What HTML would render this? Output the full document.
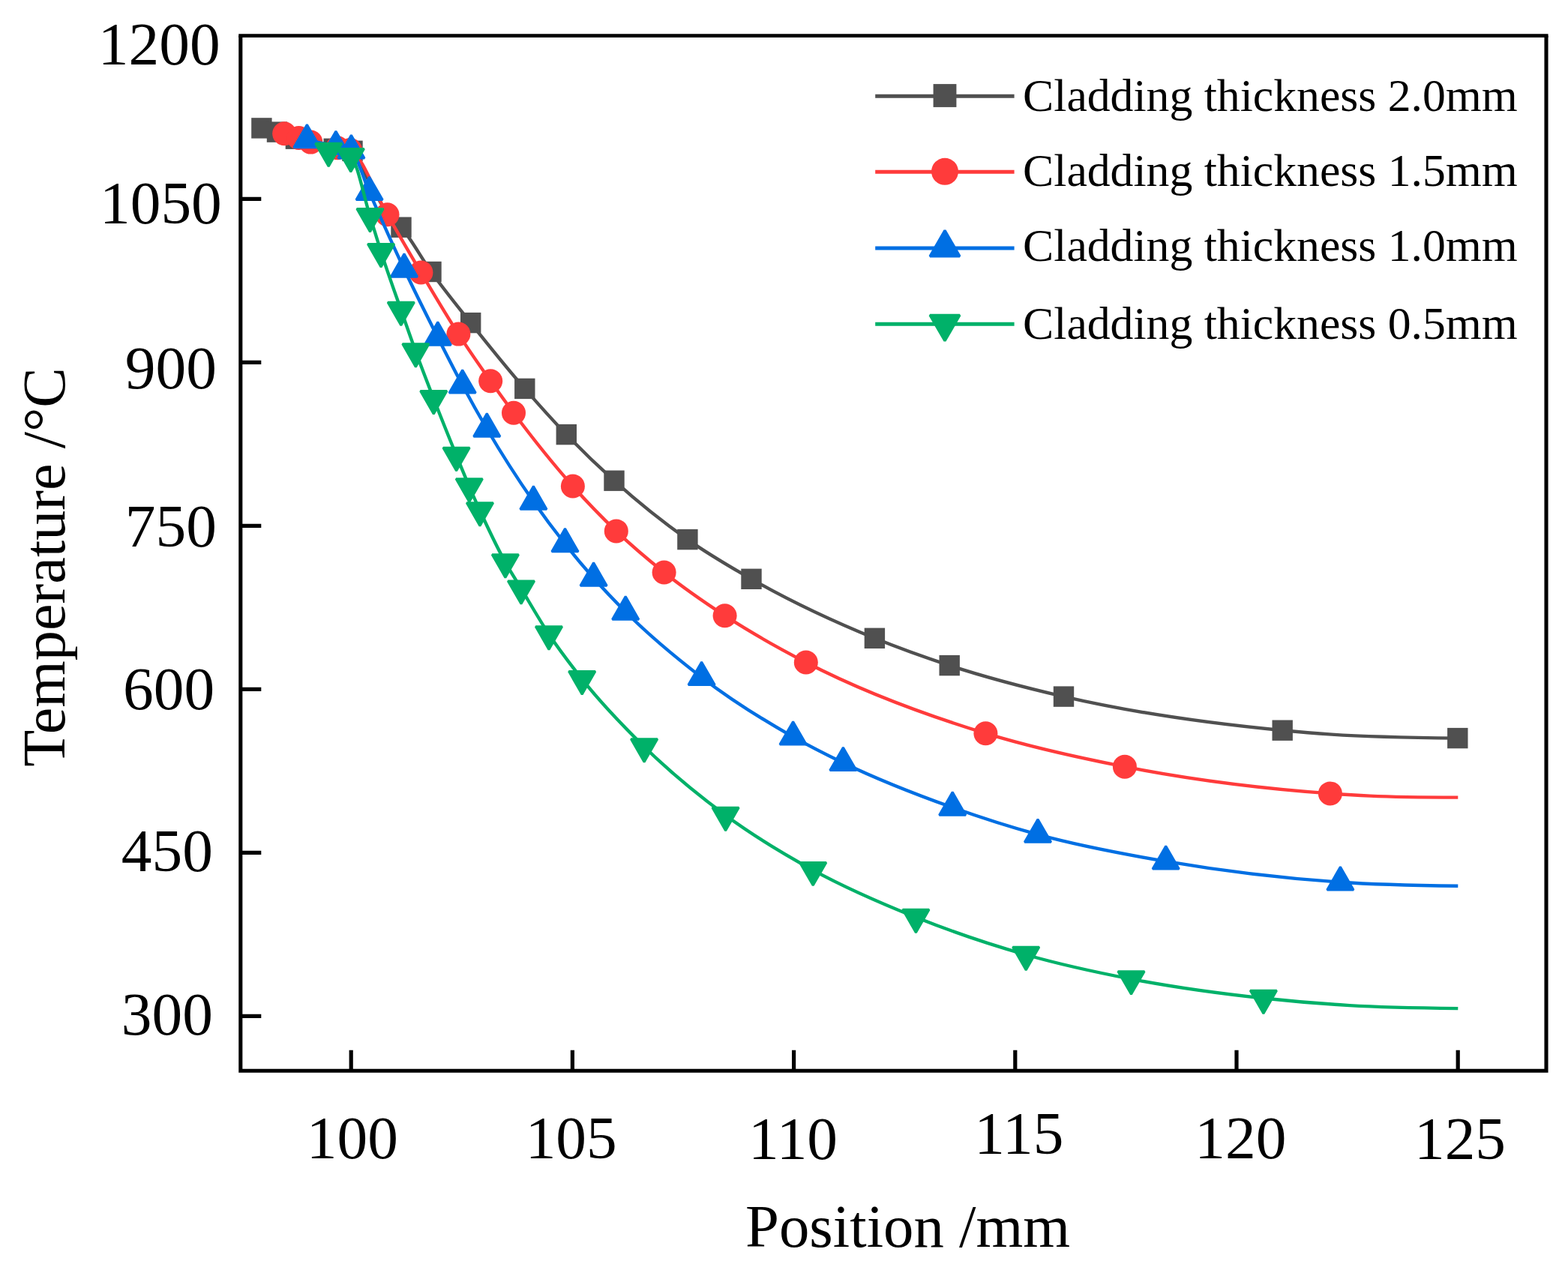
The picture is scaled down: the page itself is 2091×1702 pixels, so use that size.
<!DOCTYPE html>
<html lang="en"><head><meta charset="utf-8"><title>Temperature vs position for different cladding thickness</title>
<style>html,body{margin:0;padding:0;background:#fff}body{width:2091px;height:1702px;overflow:hidden}svg{display:block;filter:blur(0.75px)}text{font-family:"Liberation Serif",serif;fill:#000}</style>
</head><body>
<svg width="2091" height="1702" viewBox="0 0 2091 1702">
<rect width="2091" height="1702" fill="#fff"/>
<g>
<path d="M348.9 170.9C355.77 172.46 362.63 174.02 369.5 176.1C377.8 178.62 386.1 182.46 394.4 185.2C411.33 190.79 428.27 195.49 445.2 198.3C453.47 199.67 461.73 198.3 470 201.3C473.67 202.63 477.33 214.34 481 221C487 231.91 493 243.69 499 254.5C504.83 265.01 510.67 276.99 516.5 285C522.67 293.47 528.83 296.16 535 303.2C548.33 318.42 561.67 343.83 575 362.5C592.57 387.1 610.13 408.45 627.7 430.6C651.73 460.9 675.77 490.7 699.8 518.4C718.3 539.73 736.8 560.37 755.3 579.6C776.53 601.67 797.77 622.06 819 641.2C851.63 670.62 884.27 696.64 916.9 719.6C945.27 739.56 973.63 756.08 1002 772.3C1056.8 803.64 1111.6 828.95 1166.4 851.3C1199.67 864.87 1232.93 876.7 1266.2 887.6C1316.97 904.23 1367.73 917.32 1418.5 929.1C1515.73 951.66 1612.97 964.92 1710.2 974.2C1732.13 976.29 1754.07 978.12 1776 979.6C1831.93 983.37 1887.87 983.98 1943.8 984.6" fill="none" stroke="#505050" stroke-width="4.4" stroke-linejoin="round"/>
<rect x="335.2" y="157.2" width="27.4" height="27.4" fill="#505050"/>
<rect x="355.8" y="162.4" width="27.4" height="27.4" fill="#505050"/>
<rect x="380.7" y="171.5" width="27.4" height="27.4" fill="#505050"/>
<rect x="431.5" y="184.6" width="27.4" height="27.4" fill="#505050"/>
<rect x="456.3" y="187.6" width="27.4" height="27.4" fill="#505050"/>
<rect x="521.3" y="289.5" width="27.4" height="27.4" fill="#505050"/>
<rect x="561.3" y="348.8" width="27.4" height="27.4" fill="#505050"/>
<rect x="614" y="416.9" width="27.4" height="27.4" fill="#505050"/>
<rect x="686.1" y="504.7" width="27.4" height="27.4" fill="#505050"/>
<rect x="741.6" y="565.9" width="27.4" height="27.4" fill="#505050"/>
<rect x="805.3" y="627.5" width="27.4" height="27.4" fill="#505050"/>
<rect x="903.2" y="705.9" width="27.4" height="27.4" fill="#505050"/>
<rect x="988.3" y="758.6" width="27.4" height="27.4" fill="#505050"/>
<rect x="1152.7" y="837.6" width="27.4" height="27.4" fill="#505050"/>
<rect x="1252.5" y="873.9" width="27.4" height="27.4" fill="#505050"/>
<rect x="1404.8" y="915.4" width="27.4" height="27.4" fill="#505050"/>
<rect x="1696.5" y="960.5" width="27.4" height="27.4" fill="#505050"/>
<rect x="1930.1" y="970.9" width="27.4" height="27.4" fill="#505050"/>
</g>
<g>
<path d="M379.2 178.2C385.63 180.04 392.07 181.88 398.5 184C403.77 185.74 409.03 187.96 414.3 189.6C426.2 193.31 438.1 195.19 450 197.3C455.67 198.3 461.33 197.3 467 200C483.5 207.86 500 257.66 516.5 286.2C531.47 312.09 546.43 338.2 561.4 363.4C578.07 391.46 594.73 419.81 611.4 445.6C625.67 467.68 639.93 488.11 654.2 508.3C664.47 522.83 674.73 537.04 685 550.8C711.3 586.05 737.6 619.02 763.9 648.5C783.2 670.13 802.5 690 821.8 708.4C843.07 728.67 864.33 746.55 885.6 763.5C912.6 785.02 939.6 803.55 966.6 821.2C1002.67 844.78 1038.73 864.76 1074.8 883.5C1154.67 925 1234.53 953.63 1314.4 978.2C1376.23 997.22 1438.07 1010.6 1499.9 1022.7C1591.23 1040.57 1682.57 1051.86 1773.9 1058.4C1791.6 1059.67 1809.3 1060.77 1827 1061.6C1866.1 1063.43 1905.2 1063.51 1944.3 1063.6" fill="none" stroke="#ff3b3b" stroke-width="4.4" stroke-linejoin="round"/>
<circle cx="379.2" cy="178.2" r="16" fill="#ff3b3b"/>
<circle cx="398.5" cy="184" r="16" fill="#ff3b3b"/>
<circle cx="414.3" cy="189.6" r="16" fill="#ff3b3b"/>
<circle cx="450" cy="197.3" r="16" fill="#ff3b3b"/>
<circle cx="467" cy="200" r="16" fill="#ff3b3b"/>
<circle cx="516.5" cy="286.2" r="16" fill="#ff3b3b"/>
<circle cx="561.4" cy="363.4" r="16" fill="#ff3b3b"/>
<circle cx="611.4" cy="445.6" r="16" fill="#ff3b3b"/>
<circle cx="654.2" cy="508.3" r="16" fill="#ff3b3b"/>
<circle cx="685" cy="550.8" r="16" fill="#ff3b3b"/>
<circle cx="763.9" cy="648.5" r="16" fill="#ff3b3b"/>
<circle cx="821.8" cy="708.4" r="16" fill="#ff3b3b"/>
<circle cx="885.6" cy="763.5" r="16" fill="#ff3b3b"/>
<circle cx="966.6" cy="821.2" r="16" fill="#ff3b3b"/>
<circle cx="1074.8" cy="883.5" r="16" fill="#ff3b3b"/>
<circle cx="1314.4" cy="978.2" r="16" fill="#ff3b3b"/>
<circle cx="1499.9" cy="1022.7" r="16" fill="#ff3b3b"/>
<circle cx="1773.9" cy="1058.4" r="16" fill="#ff3b3b"/>
</g>
<g>
<path d="M409.4 186.6C422.23 189.41 435.07 192.22 447.9 195.4C454.73 197.1 461.57 195.4 468.4 200.7C476.47 206.96 484.53 238 492.6 256.3C508.07 291.39 523.53 326.2 539 359C553.93 390.67 568.87 420.46 583.8 450C594.77 471.69 605.73 493.38 616.7 513.8C627.57 534.03 638.43 553.44 649.3 572C670 607.36 690.7 639.38 711.4 669C725.43 689.08 739.47 707.76 753.5 725.5C766.2 741.56 778.9 756.66 791.6 771C805.8 787.03 820 801.82 834.2 816C868 849.76 901.8 877.51 935.6 903.4C976.27 934.56 1016.93 959.82 1057.6 982.8C1079.87 995.38 1102.13 1006.63 1124.4 1017.4C1173 1040.91 1221.6 1059.63 1270.2 1077C1308.13 1090.56 1346.07 1102.7 1384 1113.1C1440.9 1128.7 1497.8 1139.14 1554.7 1148.9C1632.27 1162.21 1709.83 1171.46 1787.4 1176.7C1839.7 1180.23 1892 1181.02 1944.3 1181.8" fill="none" stroke="#006fe3" stroke-width="4.4" stroke-linejoin="round"/>
<polygon points="409.4,166.22 427.05,196.79 391.75,196.79" fill="#006fe3" stroke="#006fe3" stroke-width="3" stroke-linejoin="bevel"/>
<polygon points="447.9,175.02 465.55,205.59 430.25,205.59" fill="#006fe3" stroke="#006fe3" stroke-width="3" stroke-linejoin="bevel"/>
<polygon points="468.4,180.32 486.05,210.89 450.75,210.89" fill="#006fe3" stroke="#006fe3" stroke-width="3" stroke-linejoin="bevel"/>
<polygon points="492.6,235.92 510.25,266.49 474.95,266.49" fill="#006fe3" stroke="#006fe3" stroke-width="3" stroke-linejoin="bevel"/>
<polygon points="539,338.62 556.65,369.19 521.35,369.19" fill="#006fe3" stroke="#006fe3" stroke-width="3" stroke-linejoin="bevel"/>
<polygon points="583.8,429.62 601.45,460.19 566.15,460.19" fill="#006fe3" stroke="#006fe3" stroke-width="3" stroke-linejoin="bevel"/>
<polygon points="616.7,493.42 634.35,523.99 599.05,523.99" fill="#006fe3" stroke="#006fe3" stroke-width="3" stroke-linejoin="bevel"/>
<polygon points="649.3,551.62 666.95,582.19 631.65,582.19" fill="#006fe3" stroke="#006fe3" stroke-width="3" stroke-linejoin="bevel"/>
<polygon points="711.4,648.62 729.05,679.19 693.75,679.19" fill="#006fe3" stroke="#006fe3" stroke-width="3" stroke-linejoin="bevel"/>
<polygon points="753.5,705.12 771.15,735.69 735.85,735.69" fill="#006fe3" stroke="#006fe3" stroke-width="3" stroke-linejoin="bevel"/>
<polygon points="791.6,750.62 809.25,781.19 773.95,781.19" fill="#006fe3" stroke="#006fe3" stroke-width="3" stroke-linejoin="bevel"/>
<polygon points="834.2,795.62 851.85,826.19 816.55,826.19" fill="#006fe3" stroke="#006fe3" stroke-width="3" stroke-linejoin="bevel"/>
<polygon points="935.6,883.02 953.25,913.59 917.95,913.59" fill="#006fe3" stroke="#006fe3" stroke-width="3" stroke-linejoin="bevel"/>
<polygon points="1057.6,962.42 1075.25,992.99 1039.95,992.99" fill="#006fe3" stroke="#006fe3" stroke-width="3" stroke-linejoin="bevel"/>
<polygon points="1124.4,997.02 1142.05,1027.59 1106.75,1027.59" fill="#006fe3" stroke="#006fe3" stroke-width="3" stroke-linejoin="bevel"/>
<polygon points="1270.2,1056.62 1287.85,1087.19 1252.55,1087.19" fill="#006fe3" stroke="#006fe3" stroke-width="3" stroke-linejoin="bevel"/>
<polygon points="1384,1092.72 1401.65,1123.29 1366.35,1123.29" fill="#006fe3" stroke="#006fe3" stroke-width="3" stroke-linejoin="bevel"/>
<polygon points="1554.7,1128.52 1572.35,1159.09 1537.05,1159.09" fill="#006fe3" stroke="#006fe3" stroke-width="3" stroke-linejoin="bevel"/>
<polygon points="1787.4,1156.32 1805.05,1186.89 1769.75,1186.89" fill="#006fe3" stroke="#006fe3" stroke-width="3" stroke-linejoin="bevel"/>
</g>
<g>
<path d="M438.2 201.5C448.07 196.36 457.93 201.5 467.8 208.8C476.37 215.14 484.93 261.55 493.5 288.8C498.37 304.28 503.23 320.67 508.1 335.8C517 363.48 525.9 388 534.8 413.5C541.33 432.22 547.87 451.1 554.4 469C562.37 490.83 570.33 511.32 578.3 531.8C588.4 557.76 598.5 582.82 608.6 607.5C614.33 621.51 620.07 635.67 625.8 649C630.53 660.01 635.27 670.64 640 681C651.3 705.74 662.6 729.56 673.9 750C680.93 762.72 687.97 773.53 695 785.2C707.33 805.66 719.67 827.36 732 846C746.73 868.26 761.47 887.22 776.2 905.8C803.83 940.64 831.47 968.86 859.1 996C895.27 1031.52 931.43 1060.77 967.6 1087.5C1006.47 1116.22 1045.33 1139.24 1084.2 1160.6C1129.93 1185.73 1175.67 1205.14 1221.4 1223.5C1270.33 1243.15 1319.27 1259.58 1368.2 1273.5C1414.97 1286.81 1461.73 1296.88 1508.5 1305.9C1567.3 1317.24 1626.1 1325.16 1684.9 1331.5C1723.2 1335.63 1761.5 1338.85 1799.8 1341.1C1847.97 1343.93 1896.13 1344.52 1944.3 1345.1" fill="none" stroke="#00b169" stroke-width="4.4" stroke-linejoin="round"/>
<polygon points="438.2,221.88 455.85,191.31 420.55,191.31" fill="#00b169" stroke="#00b169" stroke-width="3" stroke-linejoin="bevel"/>
<polygon points="467.8,229.18 485.45,198.61 450.15,198.61" fill="#00b169" stroke="#00b169" stroke-width="3" stroke-linejoin="bevel"/>
<polygon points="493.5,309.18 511.15,278.61 475.85,278.61" fill="#00b169" stroke="#00b169" stroke-width="3" stroke-linejoin="bevel"/>
<polygon points="508.1,356.18 525.75,325.61 490.45,325.61" fill="#00b169" stroke="#00b169" stroke-width="3" stroke-linejoin="bevel"/>
<polygon points="534.8,433.88 552.45,403.31 517.15,403.31" fill="#00b169" stroke="#00b169" stroke-width="3" stroke-linejoin="bevel"/>
<polygon points="554.4,489.38 572.05,458.81 536.75,458.81" fill="#00b169" stroke="#00b169" stroke-width="3" stroke-linejoin="bevel"/>
<polygon points="578.3,552.18 595.95,521.61 560.65,521.61" fill="#00b169" stroke="#00b169" stroke-width="3" stroke-linejoin="bevel"/>
<polygon points="608.6,627.88 626.25,597.31 590.95,597.31" fill="#00b169" stroke="#00b169" stroke-width="3" stroke-linejoin="bevel"/>
<polygon points="625.8,669.38 643.45,638.81 608.15,638.81" fill="#00b169" stroke="#00b169" stroke-width="3" stroke-linejoin="bevel"/>
<polygon points="640,701.38 657.65,670.81 622.35,670.81" fill="#00b169" stroke="#00b169" stroke-width="3" stroke-linejoin="bevel"/>
<polygon points="673.9,770.38 691.55,739.81 656.25,739.81" fill="#00b169" stroke="#00b169" stroke-width="3" stroke-linejoin="bevel"/>
<polygon points="695,805.58 712.65,775.01 677.35,775.01" fill="#00b169" stroke="#00b169" stroke-width="3" stroke-linejoin="bevel"/>
<polygon points="732,866.38 749.65,835.81 714.35,835.81" fill="#00b169" stroke="#00b169" stroke-width="3" stroke-linejoin="bevel"/>
<polygon points="776.2,926.18 793.85,895.61 758.55,895.61" fill="#00b169" stroke="#00b169" stroke-width="3" stroke-linejoin="bevel"/>
<polygon points="859.1,1016.38 876.75,985.81 841.45,985.81" fill="#00b169" stroke="#00b169" stroke-width="3" stroke-linejoin="bevel"/>
<polygon points="967.6,1107.88 985.25,1077.31 949.95,1077.31" fill="#00b169" stroke="#00b169" stroke-width="3" stroke-linejoin="bevel"/>
<polygon points="1084.2,1180.98 1101.85,1150.41 1066.55,1150.41" fill="#00b169" stroke="#00b169" stroke-width="3" stroke-linejoin="bevel"/>
<polygon points="1221.4,1243.88 1239.05,1213.31 1203.75,1213.31" fill="#00b169" stroke="#00b169" stroke-width="3" stroke-linejoin="bevel"/>
<polygon points="1368.2,1293.88 1385.85,1263.31 1350.55,1263.31" fill="#00b169" stroke="#00b169" stroke-width="3" stroke-linejoin="bevel"/>
<polygon points="1508.5,1326.28 1526.15,1295.71 1490.85,1295.71" fill="#00b169" stroke="#00b169" stroke-width="3" stroke-linejoin="bevel"/>
<polygon points="1684.9,1351.88 1702.55,1321.31 1667.25,1321.31" fill="#00b169" stroke="#00b169" stroke-width="3" stroke-linejoin="bevel"/>
</g>
<path d="M320.8 47.6 V1428.3 H2062 V47.6" fill="none" stroke="#000" stroke-width="5.1" stroke-linejoin="miter"/>
<path d="M318.25 47.6 H2064.55" fill="none" stroke="#000" stroke-width="4.6"/>
<path d="M468.2 1428.3 V1400.8 M763.4 1428.3 V1400.8 M1058.6 1428.3 V1400.8 M1353.8 1428.3 V1400.8 M1649 1428.3 V1400.8 M1944.2 1428.3 V1400.8 M320.8 1355.3 H348.3 M320.8 1137.3 H348.3 M320.8 919.3 H348.3 M320.8 701.3 H348.3 M320.8 483.3 H348.3 M320.8 265.3 H348.3" fill="none" stroke="#000" stroke-width="5.2"/>
<text x="293.6" y="86.2" font-size="81.4" text-anchor="end">1200</text>
<text x="295.8" y="297.7" font-size="81.4" text-anchor="end">1050</text>
<text x="288.9" y="518.4" font-size="81.4" text-anchor="end">900</text>
<text x="288.9" y="729.3" font-size="81.4" text-anchor="end">750</text>
<text x="286.1" y="946" font-size="81.4" text-anchor="end">600</text>
<text x="283.9" y="1161.5" font-size="81.4" text-anchor="end">450</text>
<text x="283.9" y="1380.1" font-size="81.4" text-anchor="end">300</text>
<text x="469.8" y="1545" font-size="81.4" text-anchor="middle">100</text>
<text x="761.7" y="1545" font-size="81.4" text-anchor="middle">105</text>
<text x="1057.5" y="1546.2" font-size="81.4" text-anchor="middle">110</text>
<text x="1358.9" y="1539.4" font-size="81.4" text-anchor="middle">115</text>
<text x="1654.3" y="1545.3" font-size="81.4" text-anchor="middle">120</text>
<text x="1947" y="1545.8" font-size="81.4" text-anchor="middle">125</text>
<text x="1210.6" y="1663.4" font-size="80.8" text-anchor="middle">Position /mm</text>
<text transform="translate(85.7 756.5) rotate(-90)" font-size="80.3" text-anchor="middle">Temperature /°C</text>
<path d="M1167.2 128.2 H1352.6" stroke="#505050" stroke-width="4.95" fill="none"/>
<rect x="1244.59" y="112.09" width="30.82" height="30.82" fill="#505050"/>
<text x="1364.1" y="147.9" font-size="61.7">Cladding thickness 2.0mm</text>
<path d="M1167.2 229.2 H1352.6" stroke="#ff3b3b" stroke-width="4.95" fill="none"/>
<circle cx="1260" cy="228.8" r="18" fill="#ff3b3b"/>
<text x="1364.1" y="247.7" font-size="61.7">Cladding thickness 1.5mm</text>
<path d="M1167.2 330.9 H1352.6" stroke="#006fe3" stroke-width="4.95" fill="none"/>
<polygon points="1260,307.37 1279.86,341.76 1240.14,341.76" fill="#006fe3" stroke="#006fe3" stroke-width="3.38" stroke-linejoin="bevel"/>
<text x="1364.1" y="348.3" font-size="61.7">Cladding thickness 1.0mm</text>
<path d="M1167.2 432.3 H1352.6" stroke="#00b169" stroke-width="4.95" fill="none"/>
<polygon points="1260,454.73 1279.86,420.34 1240.14,420.34" fill="#00b169" stroke="#00b169" stroke-width="3.38" stroke-linejoin="bevel"/>
<text x="1364.1" y="451.6" font-size="61.7">Cladding thickness 0.5mm</text>
</svg>
</body></html>
